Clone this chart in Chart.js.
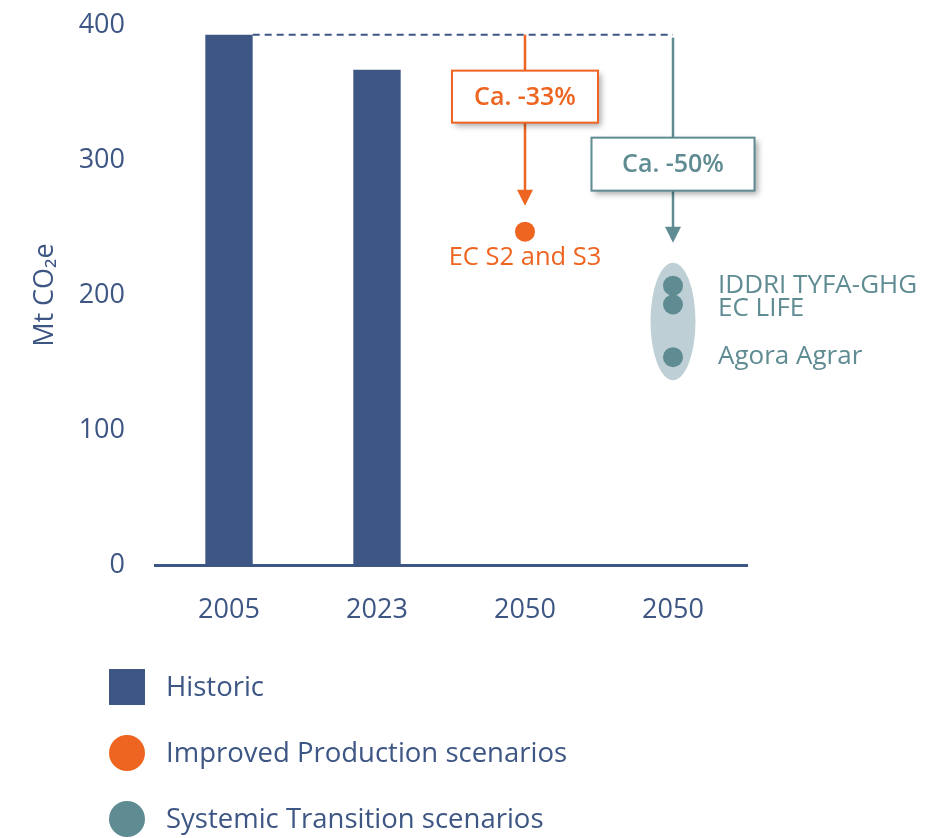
<!DOCTYPE html>
<html><head><meta charset="utf-8">
<script src="https://cdn.jsdelivr.net/npm/chart.js@4"></script>
<style>html,body{margin:0;padding:0;background:#fff;overflow:hidden}#wrap{width:930px;height:838px;position:relative;overflow:hidden}#c{position:absolute;left:0;top:-21px}</style>
</head><body><div id="wrap"><canvas id="c" width="930" height="859"></canvas></div>
<script>
// ---- data ----
const categories = ['2005', '2023', '2050', '2050'];
const historicValues = [393, 367, null, null];
const improvedIndex = 2;
const improvedValues = [247];
const improvedNames = ['EC S2 and S3'];
const systemicIndex = 3;
const systemicValues = [207, 193, 154];
const systemicNames = ['IDDRI TYFA-GHG', 'EC LIFE', 'Agora Agrar'];
const yTickValues = [0, 100, 200, 300, 400];
const baselineValue = 393;
const reductionLabels = ['Ca. -33%', 'Ca. -50%'];
const seriesNames = ['Historic', 'Improved Production scenarios', 'Systemic Transition scenarios'];

// ---- styles ----
const BLUE = '#3d5684', ORANGE = '#ee6421', TEAL = '#5f8b92', TEAL_LIGHT = '#bed0d5';
const FONT = "'Open Sans', 'Noto Sans', sans-serif";

const annotPlugin = {
  id: 'annot',
  beforeDatasetsDraw(chart) {
    const ctx = chart.ctx, xs = chart.scales.x, y = chart.scales.y;
    const cx = xs.getPixelForValue(systemicIndex);
    const top = y.getPixelForValue(Math.max(...systemicValues));
    const bot = y.getPixelForValue(Math.min(...systemicValues));
    ctx.save();
    ctx.fillStyle = TEAL_LIGHT;
    ctx.beginPath();
    ctx.ellipse(cx, (top + bot) / 2, 22.5, (bot - top) / 2 + 23, 0, 0, Math.PI * 2);
    ctx.fill();
    ctx.restore();
  },
  afterDatasetsDraw(chart) {
    const ctx = chart.ctx, xs = chart.scales.x, y = chart.scales.y;
    const bar = chart.getDatasetMeta(0).data[0];
    const yb = y.getPixelForValue(baselineValue);
    const xo = xs.getPixelForValue(improvedIndex);
    const xt = xs.getPixelForValue(systemicIndex);
    ctx.save();
    // dashed baseline
    ctx.strokeStyle = BLUE; ctx.lineWidth = 2; ctx.setLineDash([7, 5]);
    ctx.beginPath(); ctx.moveTo(bar.x + bar.width / 2, yb); ctx.lineTo(xt, yb); ctx.stroke();
    ctx.setLineDash([]);

    function arrow(x, y0, tip, color) {
      ctx.strokeStyle = color; ctx.fillStyle = color; ctx.lineWidth = 2.5;
      ctx.beginPath(); ctx.moveTo(x, y0); ctx.lineTo(x, tip - 14); ctx.stroke();
      ctx.beginPath(); ctx.moveTo(x - 8, tip - 16); ctx.lineTo(x + 8, tip - 16); ctx.lineTo(x, tip); ctx.closePath(); ctx.fill();
    }
    function box(x, top, w, h, color, text) {
      ctx.save();
      ctx.shadowColor = 'rgba(0,0,0,0.35)'; ctx.shadowBlur = 6; ctx.shadowOffsetX = 3; ctx.shadowOffsetY = 3;
      ctx.fillStyle = '#fff'; ctx.fillRect(x - w / 2, top, w, h);
      ctx.restore();
      ctx.strokeStyle = color; ctx.lineWidth = 2;
      ctx.strokeRect(x - w / 2, top, w, h);
      ctx.fillStyle = color; ctx.font = '600 25px ' + FONT; ctx.textAlign = 'center'; ctx.textBaseline = 'middle';
      ctx.fillText(text, x, top + h / 2 + 1);
    }
    // orange
    const yo = y.getPixelForValue(improvedValues[0]);
    arrow(xo, yb, yo - 26, ORANGE);
    box(xo, yb + 36, 146, 52, ORANGE, reductionLabels[0]);
    // teal
    const ytTop = y.getPixelForValue(Math.max(...systemicValues));
    arrow(xt, yb + 3, ytTop - 43, TEAL);
    box(xt, yb + 103, 163, 53, TEAL, reductionLabels[1]);

    // point labels
    ctx.font = '25.5px ' + FONT; ctx.textBaseline = 'middle';
    ctx.fillStyle = ORANGE; ctx.textAlign = 'center';
    ctx.fillText(improvedNames[0], xo, yo + 26);
    ctx.fillStyle = TEAL; ctx.textAlign = 'left';
    ctx.font = '26px ' + FONT;
    ctx.fillText(systemicNames[0], xt + 45, y.getPixelForValue(systemicValues[0]));
    ctx.fillText(systemicNames[1], xt + 45, y.getPixelForValue(systemicValues[1]) + 4);
    ctx.fillText(systemicNames[2], xt + 45, y.getPixelForValue(systemicValues[2]) - 1);
    ctx.restore();
  },
  afterDraw(chart) {
    const ctx = chart.ctx;
    const x0 = 109, size = 36, textX = 166;
    const top = chart.chartArea.bottom + 104;
    ctx.save();
    ctx.font = '27.5px ' + FONT; ctx.textBaseline = 'middle'; ctx.textAlign = 'left';
    chart.data.datasets.forEach((ds, i) => {
      const cy = top + size / 2 + i * 66;
      ctx.fillStyle = ds.backgroundColor;
      if (ds.type === 'bar') {
        ctx.fillRect(x0, cy - size / 2, size, size);
      } else {
        ctx.beginPath(); ctx.arc(x0 + size / 2, cy, size / 2, 0, Math.PI * 2); ctx.fill();
      }
      ctx.fillStyle = BLUE;
      ctx.fillText(ds.label, textX, cy + 1);
    });
    ctx.restore();
  }
};

new Chart(document.getElementById('c'), {
  type: 'bar',
  data: {
    labels: categories,
    datasets: [
      { type: 'bar', label: seriesNames[0], data: historicValues, backgroundColor: BLUE,
        barPercentage: 0.8, categoryPercentage: 0.4, grouped: false, order: 2 },
      { type: 'scatter', label: seriesNames[1], parsing: false,
        data: improvedValues.map(v => ({ x: improvedIndex, y: v })),
        backgroundColor: ORANGE, borderColor: ORANGE, pointRadius: 10, borderWidth: 0, order: 1 },
      { type: 'scatter', label: seriesNames[2], parsing: false,
        data: systemicValues.map(v => ({ x: systemicIndex, y: v })),
        backgroundColor: TEAL, borderColor: TEAL, pointRadius: 10, borderWidth: 0, order: 1 }
    ]
  },
  options: {
    responsive: false,
    animation: false,
    layout: { padding: { top: 6, right: 183, left: 0, bottom: 0 } },
    plugins: { legend: { display: false }, tooltip: { enabled: false } },
    scales: {
      x: {
        type: 'category',
        grid: { display: false, drawTicks: false },
        border: { display: true, color: BLUE, width: 3 },
        ticks: { color: BLUE, font: { family: FONT, size: 27 }, padding: 29 },
        afterFit(s) { s.height = 273; }
      },
      y: {
        min: 0, max: 400,
        afterBuildTicks(s) { s.ticks = yTickValues.map(v => ({ value: v })); },
        grid: { display: false, drawTicks: false },
        border: { display: false },
        ticks: { color: BLUE, font: { family: FONT, size: 27 }, padding: 30 },
        title: { display: true, text: 'Mt CO₂e', color: BLUE, font: { family: FONT, size: 27 }, padding: { top: 29, bottom: 0 } },
        afterFit(s) { s.width = 155; }
      }
    }
  },
  plugins: [annotPlugin]
});
</script></body></html>
